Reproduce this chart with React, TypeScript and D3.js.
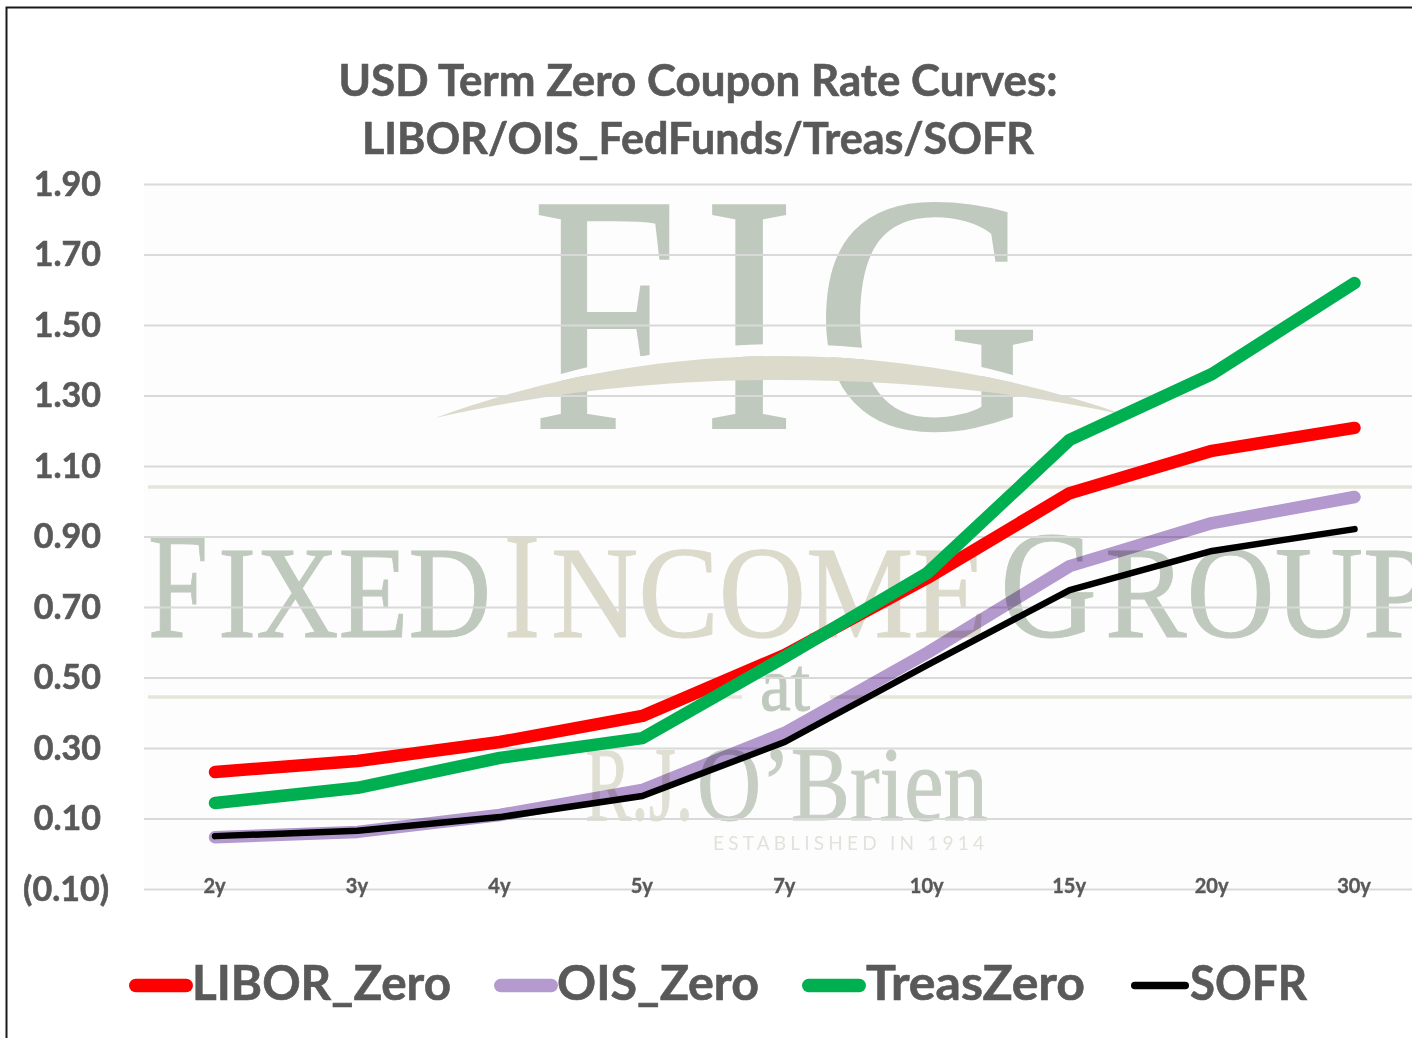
import React, { useEffect, useRef } from 'react'
import * as d3 from 'd3'

const tenors = ['2y', '3y', '4y', '5y', '7y', '10y', '15y', '20y', '30y']
const liborZero = [0.232, 0.263, 0.317, 0.391, 0.564, 0.782, 1.023, 1.143, 1.208]
const oisZero = [0.047, 0.062, 0.11, 0.181, 0.343, 0.57, 0.816, 0.938, 1.012]
const treasZero = [0.144, 0.187, 0.272, 0.328, 0.558, 0.796, 1.174, 1.361, 1.619]
const sofr = [0.05, 0.065, 0.104, 0.164, 0.317, 0.535, 0.748, 0.859, 0.921]
const yTicks = [-0.1, 0.1, 0.3, 0.5, 0.7, 0.9, 1.1, 1.3, 1.5, 1.7, 1.9]
const titleLines = ['USD Term Zero Coupon Rate Curves:', 'LIBOR/OIS_FedFunds/Treas/SOFR']

const width = 1412
const height = 1038
const font = 'Lato, sans-serif'
const serif = '"Liberation Serif", serif'
const textColor = '#595959'
const sage = '#bfc9bd'
const sand = '#dbdacb'

const titleWidths = [719, 672]

const series = [
  { name: 'LIBOR_Zero', values: liborZero, color: '#ff0000', w: 12.5, blend: 'normal', key: [129, 193], text: 192, len: 259 },
  { name: 'OIS_Zero', values: oisZero, color: '#b59ad0', w: 12.5, blend: 'multiply', key: [494, 558], text: 557, len: 202 },
  { name: 'TreasZero', values: treasZero, color: '#00b050', w: 12.5, blend: 'normal', key: [802, 866], text: 866, len: 219 },
  { name: 'SOFR', values: sofr, color: '#000000', w: 6.5, blend: 'normal', key: [1131, 1189], text: 1190, len: 117 },
]

// the logo behind the plot: [text, x, baseline, font size, width, colour]
const logoWords: [string, number, number, number, number, string][] = [
  ['F', 532, 428, 340, 146, sage],
  ['I', 703, 428, 340, 92, sage],
  ['G', 814, 428, 340, 228, sage],
  ['F', 148, 637, 153, 60, sage],
  ['IXED', 218, 637, 132, 273, sage],
  ['I', 504, 637, 153, 36, sand],
  ['NCOME', 551, 637, 132, 436, sand],
  ['G', 1000, 637, 153, 97, sage],
  ['ROUP', 1105, 637, 132, 326, sage],
  ['at', 760, 710, 76, 50, sage],
  ['R.J.', 585, 820, 106, 108, '#e0dfd3'],
  ['O’Brien', 697, 820, 106, 291, '#c6cec4'],
]

const App = () => {
  const ref = useRef<SVGSVGElement>(null)

  useEffect(() => {
    const x = d3.scalePoint<string>().domain(tenors).range([215, 1354.5])
    const y = d3.scaleLinear().domain([-0.1, 1.9]).range([889, 184])
    const fmt = (d: number) => (d < 0 ? `(${d3.format('.2f')(-d)})` : d3.format('.2f')(d))

    const svg = d3.select(ref.current)
    svg.selectAll('*').remove()

    svg.append('rect').attr('width', width).attr('height', height).attr('fill', '#fff')
    svg.append('rect')
      .attr('x', 144).attr('y', 184)
      .attr('width', width - 144).attr('height', 705)
      .attr('fill', '#fdfdfd')

    // watermark
    const logo = svg.append('g').attr('font-family', serif)
    logo.selectAll('text')
      .data(logoWords)
      .join('text')
      .attr('x', d => d[1])
      .attr('y', d => d[2])
      .attr('font-size', d => d[3])
      .attr('textLength', d => d[4])
      .attr('lengthAdjust', 'spacingAndGlyphs')
      .attr('fill', d => d[5])
      .attr('stroke', d => d[5])
      .attr('stroke-width', d => (d[3] > 300 ? 2 : 1))
      .text(d => d[0])

    logo.append('text')
      .attr('x', 713).attr('y', 850)
      .attr('font-family', font)
      .attr('font-size', 19)
      .attr('textLength', 271)
      .attr('fill', '#e2e2dc')
      .text('ESTABLISHED IN 1914')

    // white gap that cuts the big letters just above the swoosh
    logo.append('path')
      .attr('d', 'M435,418 C560,364 680,344 780,344 C900,344 1020,368 1125,415 C1020,378 900,356 780,356 C680,356 560,372 435,418 Z')
      .attr('fill', '#fdfdfd')
    logo.append('path')
      .attr('d', 'M435,418 C560,372 680,356 780,356 C900,356 1020,378 1125,415 C1020,392 900,380 780,380 C670,380 560,390 435,418 Z')
      .attr('fill', sand)

    logo.selectAll('line')
      .data([[148, 1412, 487], [148, 742, 697], [830, 1412, 697]])
      .join('line')
      .attr('x1', d => d[0])
      .attr('x2', d => d[1])
      .attr('y1', d => d[2])
      .attr('y2', d => d[2])
      .attr('stroke', '#e6e5da')
      .attr('stroke-width', 3.5)

    // y axis with full width grid lines
    const yAxis = svg.append('g')
      .attr('transform', 'translate(144,0)')
      .call(d3.axisLeft(y).tickValues(yTicks).tickSize(-(width - 144)).tickFormat(d => fmt(+d)))
    yAxis.select('.domain').remove()
    yAxis.selectAll('.tick line').attr('stroke', '#d9d9d9').attr('stroke-width', 2)
    yAxis.selectAll<SVGTextElement, number>('.tick text')
      .attr('font-family', font)
      .attr('font-size', 34)
      .attr('font-weight', 700)
      .attr('fill', textColor)
      .attr('stroke', textColor)
      .attr('stroke-width', 0.6)
      .attr('x', d => (d < 0 ? -35 : -43))
      .attr('dy', 11)

    // x axis labels sit on the -0.10 line
    const xAxis = svg.append('g')
      .attr('transform', 'translate(0,889)')
      .call(d3.axisBottom(x).tickSize(0).tickPadding(0))
    xAxis.select('.domain').remove()
    xAxis.selectAll('.tick text')
      .attr('font-family', font)
      .attr('font-size', 20)
      .attr('font-weight', 700)
      .attr('fill', textColor)
      .attr('stroke', textColor)
      .attr('stroke-width', 0.4)
      .attr('x', -1)
      .attr('y', 0)
      .attr('dy', 4)

    // curves
    const line = d3.line<number>()
      .x((_, i) => x(tenors[i]) as number)
      .y(d => y(d))

    svg.append('g')
      .selectAll('path')
      .data(series)
      .join('path')
      .attr('d', d => line(d.values))
      .attr('fill', 'none')
      .attr('stroke', d => d.color)
      .attr('stroke-width', d => d.w)
      .attr('stroke-linecap', 'round')
      .attr('stroke-linejoin', 'round')
      .style('mix-blend-mode', d => d.blend)

    // title
    svg.append('g')
      .attr('font-family', font)
      .attr('font-size', 43)
      .attr('font-weight', 700)
      .attr('fill', textColor)
      .attr('stroke', textColor)
      .attr('stroke-width', 0.6)
      .attr('text-anchor', 'middle')
      .selectAll('text')
      .data(titleLines)
      .join('text')
      .attr('x', 698)
      .attr('y', (_, i) => 96 + i * 58)
      .attr('textLength', (_, i) => titleWidths[i])
      .attr('lengthAdjust', 'spacingAndGlyphs')
      .text(d => d)

    // legend
    const legend = svg.append('g').selectAll('g').data(series).join('g')
    legend.append('rect')
      .attr('x', d => d.key[0])
      .attr('y', d => 985 - d.w / 2)
      .attr('width', d => d.key[1] - d.key[0])
      .attr('height', d => d.w + 1)
      .attr('rx', d => (d.w + 1) / 2)
      .attr('fill', d => d.color)
    legend.append('text')
      .attr('x', d => d.text)
      .attr('y', 1000)
      .attr('font-family', font)
      .attr('font-size', 47)
      .attr('font-weight', 700)
      .attr('fill', textColor)
      .attr('stroke', textColor)
      .attr('stroke-width', 0.6)
      .attr('textLength', d => d.len)
      .attr('lengthAdjust', 'spacingAndGlyphs')
      .text(d => d.name)

    // outer frame, right and bottom edges run off the page
    svg.append('path')
      .attr('d', `M6.5,${height} V7.5 H${width}`)
      .attr('fill', 'none')
      .attr('stroke', '#1a1a1a')
      .attr('stroke-width', 2)
  }, [])

  return (
    <svg
      ref={ref}
      width={width}
      height={height}
      viewBox={`0 0 ${width} ${height}`}
      style={{ position: 'absolute', left: 0, top: 0, display: 'block' }}
    />
  )
}

export default App
